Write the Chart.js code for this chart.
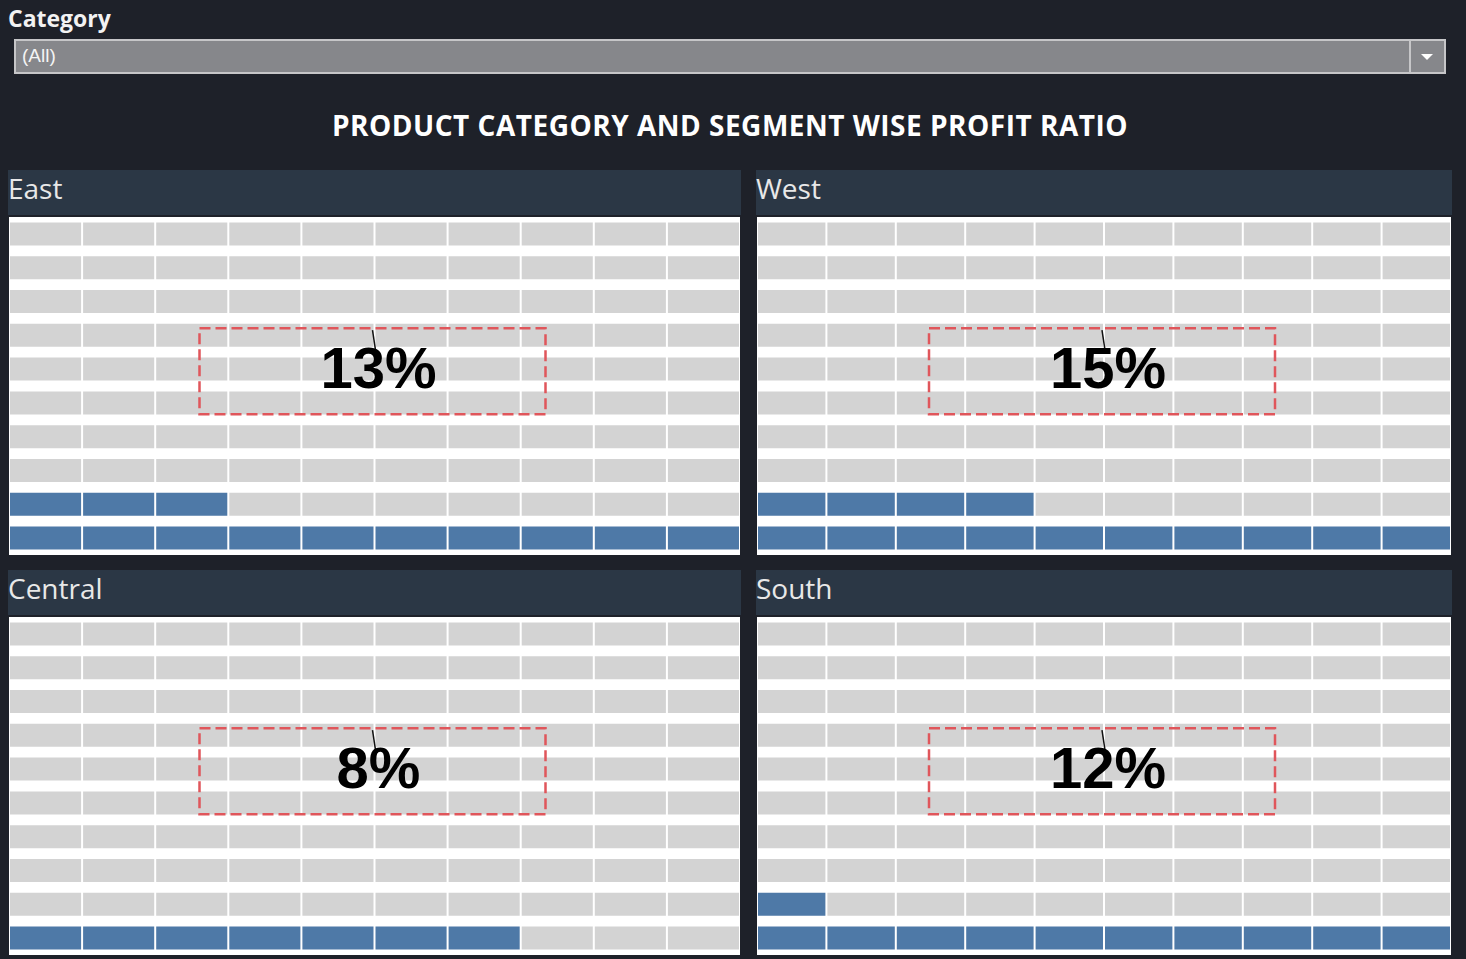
<!DOCTYPE html>
<html>
<head>
<meta charset="utf-8">
<script src="https://cdn.jsdelivr.net/npm/chart.js@4"></script>
<style>
  html, body { margin: 0; padding: 0; background: #1e2129; width: 1466px; height: 959px; overflow: hidden; }
  .lbl { position: absolute; left: 8px; top: 2px; color: #f2f2f2; font: bold 23px "Open Sans", sans-serif; }
  .dd { position: absolute; left: 14px; top: 39px; width: 1428px; height: 31px; background: #86878b; border: 2px solid #c6c6c8; }
  .dd span { position: absolute; left: 6px; top: 4px; color: #f4f4f4; font: 19px "Liberation Sans", Arial, sans-serif; }
  .dd .btn { position: absolute; right: 0; top: 0; width: 33px; height: 31px; border-left: 2px solid #c6c6c8; }
  .dd .btn:after { content: ""; position: absolute; left: 10px; top: 13px; border-left: 6px solid transparent; border-right: 6px solid transparent; border-top: 6px solid #fff; }
  .title { position: absolute; left: 0; width: 1460px; top: 106px; line-height: 38px; text-align: center; color: #ffffff; font: bold 28px "Open Sans", sans-serif; letter-spacing: 0.5px; }
  .hdr { position: absolute; height: 45px; background: #2b3745; color: #e8e8e8; font: 28px "Open Sans", sans-serif; }
  .hdr span { position: absolute; left: 0px; top: -2px; line-height: 40px; }
  .box { position: absolute; background: #ffffff; height: 338px; }
</style>
</head>
<body>
<div class="lbl">Category</div>
<div class="dd"><span>(All)</span><div class="btn"></div></div>
<div class="title">PRODUCT CATEGORY AND SEGMENT WISE PROFIT RATIO</div>
<div id="panels"></div>
<script>
// ===== DATA =====
const regions = ["East", "West", "Central", "South"];
const profitLabels = ["13%", "15%", "8%", "12%"];
const filledCells = [13, 14, 7, 11];          // blue squares counted from the picture
const rowNames = ["10", "9", "8", "7", "6", "5", "4", "3", "2", "1"];
const colNames = ["1", "2", "3", "4", "5", "6", "7", "8", "9", "10"];

const BLUE = "#4e79a7", GRAY = "#d3d3d3";

// panel placement (left, top, width) for each region
const panelPos = [
  { x: 8, y: 170, w: 733 },
  { x: 756, y: 170, w: 696 },
  { x: 8, y: 570, w: 733 },
  { x: 756, y: 570, w: 696 }
];

// dashed box + percentage in the middle of each waffle
const centerLabel = {
  id: "centerLabel",
  afterDraw(chart, args, opts) {
    const ctx = chart.ctx, a = chart.chartArea;
    const cx = (a.left + a.right) / 2 - 2;
    const cy = a.top + (a.bottom - a.top) * 0.456;
    const bw = 346, bh = 86;
    ctx.save();
    ctx.strokeStyle = "#e0565b";
    ctx.lineWidth = 2.5;
    ctx.setLineDash([11, 5]);
    ctx.strokeRect(cx - bw / 2, cy - bh / 2, bw, bh);
    ctx.setLineDash([]);
    ctx.strokeStyle = "#111";
    ctx.lineWidth = 1.5;
    ctx.beginPath();
    ctx.moveTo(cx, cy - bh / 2 + 2);
    ctx.lineTo(cx + 3, cy - bh / 2 + 22);
    ctx.stroke();
    ctx.fillStyle = "#000";
    ctx.font = "bold 58px 'Liberation Sans', Arial, sans-serif";
    ctx.textAlign = "center";
    ctx.textBaseline = "middle";
    ctx.fillText(opts.text, cx + 6, cy + 1);
    ctx.restore();
  }
};

const holder = document.getElementById("panels");

regions.forEach((name, i) => {
  const p = panelPos[i];
  const hdr = document.createElement("div");
  hdr.className = "hdr";
  hdr.style.left = p.x + "px";
  hdr.style.top = p.y + "px";
  hdr.style.width = p.w + "px";
  hdr.innerHTML = "<span>" + name + "</span>";
  holder.appendChild(hdr);

  const box = document.createElement("div");
  box.className = "box";
  box.style.left = (p.x + 1) + "px";
  box.style.top = (p.y + 47) + "px";
  box.style.width = (p.w - 2) + "px";
  const cv = document.createElement("canvas");
  box.appendChild(cv);
  holder.appendChild(box);

  const datasets = colNames.map((c, ci) => ({
    label: c,
    data: rowNames.map(() => 1),
    backgroundColor: rowNames.map(r => ((+r - 1) * 10 + ci < filledCells[i] ? BLUE : GRAY)),
    borderColor: "#ffffff",
    borderWidth: 1,
    borderSkipped: false,
    barPercentage: 1,
    categoryPercentage: 0.74
  }));

  new Chart(cv, {
    type: "bar",
    data: { labels: rowNames, datasets: datasets },
    options: {
      indexAxis: "y",
      responsive: true,
      maintainAspectRatio: false,
      animation: false,
      layout: { padding: 0 },
      scales: {
        x: { stacked: true, min: 0, max: 10, display: false },
        y: { stacked: true, display: false }
      },
      plugins: {
        legend: { display: false },
        tooltip: { enabled: false },
        centerLabel: { text: profitLabels[i] }
      }
    },
    plugins: [centerLabel]
  });
});
</script>
</body>
</html>
